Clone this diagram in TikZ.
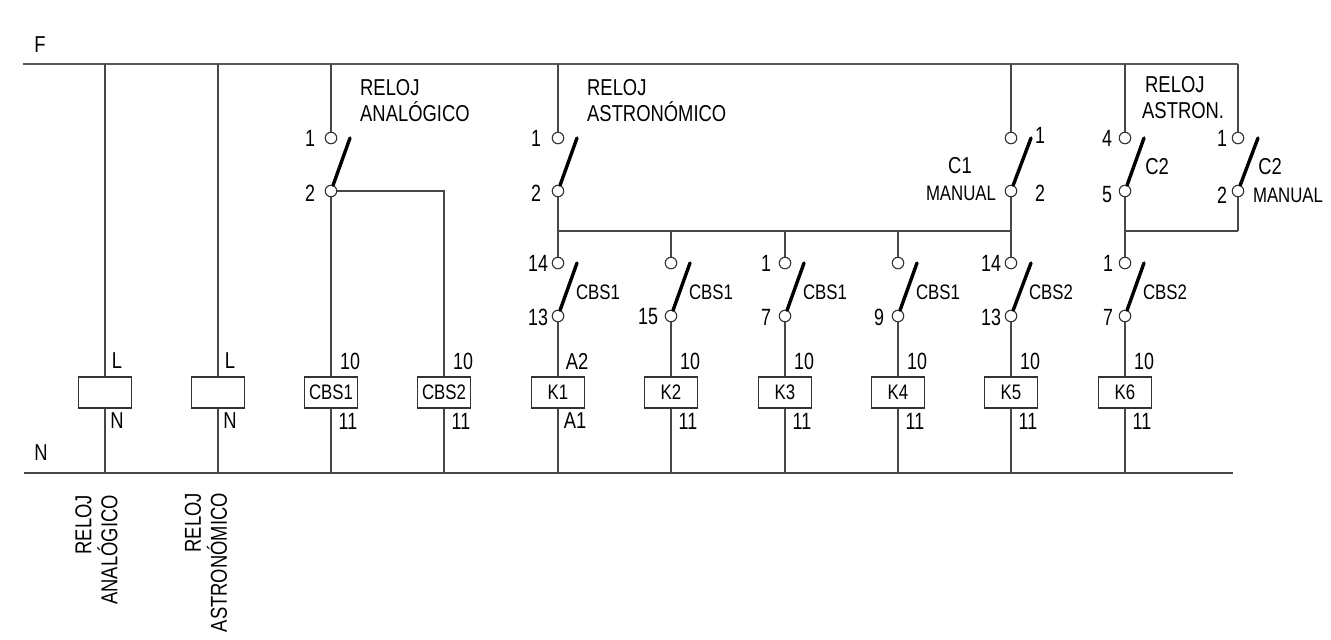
\documentclass[tikz,border=0pt]{standalone}
\usepackage{fontspec}
\setmainfont[FakeStretch=0.8]{Liberation Sans}
\newfontfamily\numfont[FakeStretch=0.76]{Liberation Sans}
\usetikzlibrary{positioning}

\tikzset{
  wire/.style = {line width=1.2pt, draw=black!72},
  bus/.style = {line width=1.7pt, draw=black!65},
  blade/.style = {line width=3.4pt, draw=black, line cap=round},
  term/.style = {circle, draw=black!80, line width=1.1pt, fill=white, inner sep=0pt, minimum size=11.5pt},
  coil/.style = {rectangle, draw=black!80, line width=1.2pt, fill=white, inner sep=0pt, minimum width=53pt, minimum height=31pt, font=\fontsize{21}{24}\selectfont},
  lab/.style = {inner sep=0pt, font=\fontsize{23}{26}\selectfont},
  num/.style = {inner sep=0pt, font=\numfont\fontsize{23.5}{26}\selectfont},
  labs/.style = {inner sep=0pt, font=\fontsize{21}{24}\selectfont}
}

\begin{document}
\begin{tikzpicture}[x=1pt, y=-1pt]
  \useasboundingbox (0,0) rectangle (1331,640);

  % bars
  \coordinate (fL) at (23,64);
  \coordinate (fR) at (1238,64);
  \coordinate (nL) at (24,473);
  \coordinate (nR) at (1233,473);
  \coordinate (jA) at (558,231);
  \coordinate (jB) at (1011,231);
  \coordinate (jC) at (1125,231);
  \coordinate (jD) at (1238,231);

  \path[bus] (fL) edge (fR);
  \path[wire] (nL) edge (nR);

  % coils
  \node[coil] (rA) at (105,392.5) {};
  \node[coil] (rB) at (218,392.5) {};
  \node[coil] (cbsA) at (331,392.5) {CBS1};
  \node[coil] (cbsB) at (444,392.5) {CBS2};
  \node[coil] (k1) at (558,392.5) {K1};
  \node[coil] (k2) at (671,392.5) {K2};
  \node[coil] (k3) at (785,392.5) {K3};
  \node[coil] (k4) at (898,392.5) {K4};
  \node[coil] (k5) at (1011,392.5) {K5};
  \node[coil] (k6) at (1125,392.5) {K6};

  % upper contacts
  \node[term] (anaT) at (331,138) {};
  \node[term] (anaB) at (331,191) {};
  \node[term] (astT) at (558,138) {};
  \node[term] (astB) at (558,191) {};
  \node[term] (c1T) at (1011,138) {};
  \node[term] (c1B) at (1011,191) {};
  \node[term] (c2T) at (1125,138) {};
  \node[term] (c2B) at (1125,191) {};
  \node[term] (mdT) at (1238,138) {};
  \node[term] (mdB) at (1238,191) {};

  % lower contacts
  \node[term] (s1T) at (558,263) {};
  \node[term] (s1B) at (558,316) {};
  \node[term] (s2T) at (671,263) {};
  \node[term] (s2B) at (671,316) {};
  \node[term] (s3T) at (785,263) {};
  \node[term] (s3B) at (785,316) {};
  \node[term] (s4T) at (898,263) {};
  \node[term] (s4B) at (898,316) {};
  \node[term] (s5T) at (1011,263) {};
  \node[term] (s5B) at (1011,316) {};
  \node[term] (s6T) at (1125,263) {};
  \node[term] (s6B) at (1125,316) {};

  % free ends of the blades
  \coordinate (anaE) at (350,138);
  \coordinate (astE) at (577,138);
  \coordinate (c1E) at (1031,138);
  \coordinate (c2E) at (1144,138);
  \coordinate (mdE) at (1258,138);
  \coordinate (s1E) at (577,263);
  \coordinate (s2E) at (690,263);
  \coordinate (s3E) at (804,263);
  \coordinate (s4E) at (917,263);
  \coordinate (s5E) at (1031,263);
  \coordinate (s6E) at (1144,263);

  \path[blade]
    (anaB) edge (anaE)
    (astB) edge (astE)
    (c1B) edge (c1E)
    (c2B) edge (c2E)
    (mdB) edge (mdE)
    (s1B) edge (s1E)
    (s2B) edge (s2E)
    (s3B) edge (s3E)
    (s4B) edge (s4E)
    (s5B) edge (s5E)
    (s6B) edge (s6E)
  ;

  % wires
  \path[wire]
    (rA |- fL) edge (rA)
    (rA) edge (rA |- nL)
    (rB |- fL) edge (rB)
    (rB) edge (rB |- nL)
    (anaT |- fL) edge (anaT)
    (anaB) edge (cbsA)
    (cbsA) edge (cbsA |- nL)
    (cbsB) edge (cbsB |- nL)
    (astT |- fL) edge (astT)
    (astB) edge (jA)
    (jA) edge (s1T)
    (jA) edge (jB)
    (c1T |- fL) edge (c1T)
    (c1B) edge (jB)
    (jB) edge (s5T)
    (c2T |- fL) edge (c2T)
    (c2B) edge (jC)
    (jC) edge (s6T)
    (jC) edge (jD)
    (fR) edge (mdT)
    (mdB) edge (jD)
    (s2T |- jA) edge (s2T)
    (s3T |- jA) edge (s3T)
    (s4T |- jA) edge (s4T)
    (s1B) edge (k1)
    (s2B) edge (k2)
    (s3B) edge (k3)
    (s4B) edge (k4)
    (s5B) edge (k5)
    (s6B) edge (k6)
    (k1) edge (k1 |- nL)
    (k2) edge (k2 |- nL)
    (k3) edge (k3 |- nL)
    (k4) edge (k4 |- nL)
    (k5) edge (k5 |- nL)
    (k6) edge (k6 |- nL)
  ;
  \draw[wire] (anaB) -| (cbsB);

  % texts
  \node[lab] (lbF) at (40,45) {F};
  \node[lab] (lbN) at (41,453) {N};
  \node[lab, align=left, anchor=west] (txAna) at (360,101) {RELOJ\\ANALÓGICO};
  \node[lab, align=left, anchor=west] (txAst) at (587,101) {RELOJ\\ASTRONÓMICO};
  \node[lab, align=left, anchor=west] (txAsn) at (1142,98) {\hspace{3pt}RELOJ\\ASTRON.};
  \node[lab, rotate=90, align=right, anchor=east] (txRa) at (96.5,495) {RELOJ\\ANALÓGICO};
  \node[lab, rotate=90, align=right, anchor=east] (txRb) at (206,493) {RELOJ\\ASTRONÓMICO};

  \node[num] (n1) at (310,138) {1};
  \node[num] (n2) at (310,193) {2};
  \node[num] (n3) at (536,138) {1};
  \node[num] (n4) at (536,193) {2};
  \node[num] (n5) at (1040,135) {1};
  \node[num] (n6) at (1040,193) {2};
  \node[num] (n7) at (1107,138) {4};
  \node[num] (n8) at (1107,195) {5};
  \node[num] (n9) at (1222,138) {1};
  \node[num] (n10) at (1222,195) {2};
  \node[lab] (txC1) at (960,166) {C1};
  \node[lab] (txC2) at (1157,167) {C2};
  \node[lab] (txC3) at (1270,167) {C2};
  \node[labs] (txM1) at (961,193) {MANUAL};
  \node[labs] (txM2) at (1288,195) {MANUAL};

  \node[num] (n11) at (538,263) {14};
  \node[num] (n12) at (538,317) {13};
  \node[num] (n13) at (648,317) {15};
  \node[num] (n14) at (766,263) {1};
  \node[num] (n15) at (766,317) {7};
  \node[num] (n16) at (879,317) {9};
  \node[num] (n17) at (991,263) {14};
  \node[num] (n18) at (991,317) {13};
  \node[num] (n19) at (1108,263) {1};
  \node[num] (n20) at (1108,317) {7};
  \node[labs] (txS1) at (598,292) {CBS1};
  \node[labs] (txS2) at (711,292) {CBS1};
  \node[labs] (txS3) at (825,292) {CBS1};
  \node[labs] (txS4) at (938,292) {CBS1};
  \node[labs] (txS5) at (1051,292) {CBS2};
  \node[labs] (txS6) at (1165,292) {CBS2};

  \node[lab] (u1) at (117,361) {L};
  \node[lab] (d1) at (117,421) {N};
  \node[lab] (u2) at (230,361) {L};
  \node[lab] (d2) at (230,421) {N};
  \node[num] (u3) at (350,361) {10};
  \node[num] (d3) at (348,421) {11};
  \node[num] (u4) at (463,361) {10};
  \node[num] (d4) at (461,421) {11};
  \node[lab] (u5) at (577,361) {A2};
  \node[lab] (d5) at (575,421) {A1};
  \node[num] (u6) at (690,361) {10};
  \node[num] (d6) at (688,421) {11};
  \node[num] (u7) at (804,361) {10};
  \node[num] (d7) at (802,421) {11};
  \node[num] (u8) at (917,361) {10};
  \node[num] (d8) at (915,421) {11};
  \node[num] (u9) at (1030,361) {10};
  \node[num] (d9) at (1028,421) {11};
  \node[num] (u10) at (1144,361) {10};
  \node[num] (d10) at (1142,421) {11};
\end{tikzpicture}
\end{document}
